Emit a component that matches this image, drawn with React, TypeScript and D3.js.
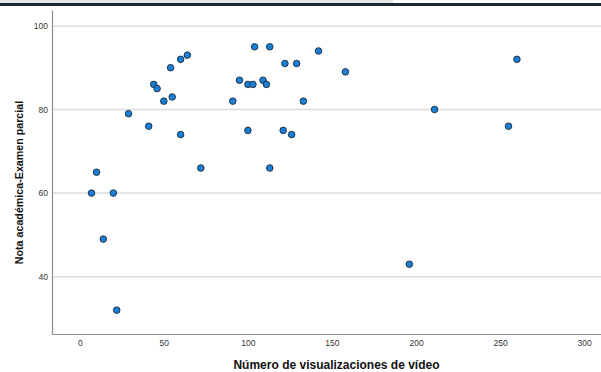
import { useEffect, useRef } from "react";
import * as d3 from "d3";

// Número de visualizaciones de vídeo vs nota del examen parcial
const views = [
  7, 10, 14, 20, 22, 29, 41, 44, 46, 50, 54, 55, 60, 60, 64, 72, 91, 95, 100,
  100, 103, 104, 109, 111, 113, 113, 121, 122, 126, 129, 133, 142, 158, 196,
  211, 255, 260,
];
const grades = [
  60, 65, 49, 60, 32, 79, 76, 86, 85, 82, 90, 83, 92, 74, 93, 66, 82, 87, 86,
  75, 86, 95, 87, 86, 95, 66, 75, 91, 74, 91, 82, 94, 89, 43, 80, 76, 92,
];
const xTicks = [0, 50, 100, 150, 200, 250, 300];
const yTicks = [40, 60, 80, 100];

const width = 601;
const height = 372;
const font = "Liberation Sans, Arial, sans-serif";

export default function App() {
  const svgRef = useRef<SVGSVGElement>(null);

  useEffect(() => {
    const svgEl = svgRef.current;
    if (!svgEl) return;
    const svg = d3.select(svgEl);
    svg.selectAll("*").remove();

    // plot area edges
    const left = 52;
    const right = 601;
    const top = 10;
    const bottom = 334;

    const x = d3.scaleLinear().domain([-16.5, 310]).range([left, right]);
    const y = d3.scaleLinear().domain([26.3, 103.8]).range([bottom, top]);

    // header strip
    svg.append("rect").attr("x", 0).attr("y", 0).attr("width", 393).attr("height", 3).attr("fill", "#e6e6e6");
    svg.append("rect").attr("x", 0).attr("y", 3).attr("width", width).attr("height", 3).attr("fill", "#1b2a33");

    // gridlines
    svg
      .append("g")
      .selectAll("line")
      .data(yTicks)
      .join("line")
      .attr("x1", left)
      .attr("x2", right)
      .attr("y1", (d) => y(d))
      .attr("y2", (d) => y(d))
      .attr("stroke", "#dcdcdc")
      .attr("stroke-width", 1.5);

    // axes
    const yAxis = svg
      .append("g")
      .attr("transform", `translate(${left},0)`)
      .call(d3.axisLeft(y).tickValues(yTicks).tickSize(0).tickPadding(4));
    yAxis.select(".domain").attr("stroke", "#8c8c8c").attr("stroke-width", 1.2);
    yAxis.selectAll("text").attr("font-family", font).attr("font-size", 8.5).attr("fill", "#333");

    const xAxis = svg
      .append("g")
      .attr("transform", `translate(0,${bottom})`)
      .call(d3.axisBottom(x).tickValues(xTicks).tickSize(0).tickPadding(6));
    xAxis.select(".domain").attr("stroke", "#8c8c8c").attr("stroke-width", 1.2);
    xAxis.selectAll("text").attr("font-family", font).attr("font-size", 8.5).attr("fill", "#333");

    // points
    svg
      .append("g")
      .selectAll("circle")
      .data(views.map((v, i) => ({ v, g: grades[i] })))
      .join("circle")
      .attr("cx", (d) => x(d.v))
      .attr("cy", (d) => y(d.g))
      .attr("r", 3.3)
      .attr("fill", "#1a7fd4")
      .attr("stroke", "#1d2b3a")
      .attr("stroke-width", 0.9);

    // axis titles
    svg
      .append("text")
      .attr("x", 336.5)
      .attr("y", 369)
      .attr("text-anchor", "middle")
      .attr("font-family", font)
      .attr("font-size", 12)
      .attr("font-weight", "bold")
      .attr("fill", "#111")
      .text("Número de visualizaciones de vídeo");

    svg
      .append("text")
      .attr("transform", `translate(23,182.5) rotate(-90)`)
      .attr("text-anchor", "middle")
      .attr("font-family", font)
      .attr("font-size", 10.7)
      .attr("font-weight", "bold")
      .attr("fill", "#111")
      .text("Nota académica-Examen parcial");
  }, []);

  return (
    <div style={{ position: "absolute", left: 0, top: 0 }}>
      <svg ref={svgRef} width={width} height={height} style={{ display: "block", background: "#fff" }} />
    </div>
  );
}
